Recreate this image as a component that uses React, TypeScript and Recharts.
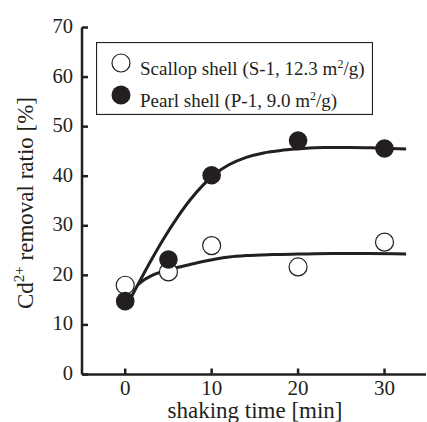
import React from "react";
import { ComposedChart, Legend, Line, Scatter, XAxis, YAxis } from "recharts";

const INK = "#231f20";
const FONT = '"Liberation Serif", "Times New Roman", Times, serif';

// measured points
const shakingTime = [0, 5, 10, 20, 30];
const scallopRatio = [18.0, 20.7, 26.0, 21.7, 26.7];
const pearlRatio = [14.8, 23.2, 40.2, 47.2, 45.6];

// fitted curves
const scallopFitTime = [1.45, 2.2, 3, 4, 5, 6, 7.5, 9, 10.5, 12, 14, 17, 20, 24, 28, 32.5];
const scallopFitRatio = [18.1, 19.1, 19.9, 20.6, 21.1, 21.6, 22.2, 22.8, 23.3, 23.7, 24.0, 24.2, 24.3, 24.4, 24.4, 24.3];
const pearlFitTime = [0, 1.5, 3, 4.5, 6, 7.5, 9, 10.5, 12, 14, 16, 18, 20, 23, 26, 29, 32.5];
const pearlFitRatio = [13.3, 18.25, 23.05, 27.55, 31.6, 35.2, 38.2, 40.6, 42.3, 43.8, 44.7, 45.2, 45.5, 45.8, 45.8, 45.7, 45.5];

const xTicks = [0, 10, 20, 30];
const yTicks = [0, 10, 20, 30, 40, 50, 60, 70];

const SCALLOP = "Scallop shell (S-1, 12.3 m²/g)";
const PEARL = "Pearl shell (P-1, 9.0 m²/g)";
const legendOrder = [SCALLOP, PEARL];

const toPoints = (xs: number[], ys: number[]) => xs.map((x, i) => ({ x, y: ys[i] }));

const scallopData = toPoints(shakingTime, scallopRatio);
const pearlData = toPoints(shakingTime, pearlRatio);
const scallopFit = toPoints(scallopFitTime, scallopFitRatio);
const pearlFit = toPoints(pearlFitTime, pearlFitRatio);

const OpenDot = (p: any) => (
  <circle cx={p.cx} cy={p.cy} r={9} fill="#fff" stroke={INK} strokeWidth={1.2} />
);
const FilledDot = (p: any) => <circle cx={p.cx} cy={p.cy} r={9.3} fill={INK} />;

const BottomTick = ({ x, y, payload }: any) => (
  <g>
    <line x1={x} y1={y} x2={x} y2={y - 6} stroke={INK} strokeWidth={2.5} />
    <text x={x} y={y + 20.5} textAnchor="middle" fontFamily={FONT} fontSize={21} fill={INK}>
      {payload.value}
    </text>
  </g>
);
const TopTick = ({ x, y }: any) => (
  <line x1={x} y1={y} x2={x} y2={y + 6} stroke={INK} strokeWidth={2.5} />
);
const LeftTick = ({ x, y, payload }: any) => (
  <g>
    <line x1={x} y1={y} x2={x + 6} y2={y} stroke={INK} strokeWidth={2.5} />
    <text x={x - 9} y={y + 5.5} textAnchor="end" fontFamily={FONT} fontSize={20.5} fill={INK}>
      {payload.value}
    </text>
  </g>
);
const RightTick = ({ x, y }: any) => (
  <line x1={x} y1={y} x2={x - 5} y2={y} stroke={INK} strokeWidth={2.5} />
);

// "m²" -> m with a raised small 2
function SupName({ name }: { name: string }) {
  const [a, b] = name.split("²");
  return (
    <>
      {a}
      <tspan dy={-7} fontSize={12}>2</tspan>
      <tspan dy={7}>{b}</tspan>
    </>
  );
}

function LegendBox({ payload }: any) {
  const names = (payload || []).map((e: any) => e.value);
  const items = legendOrder.filter((n) => names.includes(n));
  return (
    <svg width={277} height={73} style={{ display: "block" }}>
      <rect x={0.5} y={0.5} width={276} height={72} fill="#fff" stroke={INK} strokeWidth={1.2} />
      {items.map((name, i) => {
        const cy = 21 + i * 32;
        return (
          <g key={name}>
            {name === SCALLOP ? (
              <circle cx={25} cy={cy} r={9} fill="#fff" stroke={INK} strokeWidth={1.2} />
            ) : (
              <circle cx={25} cy={cy} r={9.5} fill={INK} />
            )}
            <text x={44} y={cy + 12} fontFamily={FONT} fontSize={19} fill={INK}>
              <SupName name={name} />
            </text>
          </g>
        );
      })}
    </svg>
  );
}

const YTitle = (props: any) => {
  const vb = props.viewBox || { x: 0, y: 27.5, width: 82, height: 347 };
  const cy = vb.y + vb.height / 2 + 2;
  return (
    <text
      transform={`translate(33,${cy}) rotate(-90)`}
      textAnchor="middle"
      fontFamily={FONT}
      fontSize={23}
      fill={INK}
    >
      Cd
      <tspan dy={-9} fontSize={15}>2+</tspan>
      <tspan dy={9}> removal ratio [%]</tspan>
    </text>
  );
};

const XTitle = (props: any) => {
  const vb = props.viewBox || { x: 82, y: 374.5, width: 344, height: 47.5 };
  return (
    <text
      x={vb.x + vb.width / 2 + 1}
      y={vb.y + 43.5}
      textAnchor="middle"
      fontFamily={FONT}
      fontSize={23}
      fill={INK}
    >
      shaking time [min]
    </text>
  );
};

export default function App() {
  return (
    <div style={{ position: "absolute", left: 0, top: 0, background: "#fff" }}>
      <ComposedChart
        width={427}
        height={422}
        margin={{ top: 27.5, right: 1, bottom: 0, left: 0 }}
      >
        <XAxis
          dataKey="x"
          type="number"
          domain={[-5, 34.8]}
          ticks={xTicks}
          interval={0}
          allowDataOverflow
          height={47.5}
          tickSize={0}
          tickMargin={0}
          tick={<BottomTick />}
          axisLine={{ stroke: INK, strokeWidth: 2.5 }}
          label={{ content: <XTitle /> }}
        />
        <XAxis
          xAxisId="top"
          orientation="top"
          type="number"
          domain={[-5, 34.8]}
          ticks={xTicks}
          interval={0}
          allowDataOverflow
          height={0}
          tickSize={0}
          tickMargin={0}
          tick={<TopTick />}
          axisLine={{ stroke: INK, strokeWidth: 2 }}
        />
        <YAxis
          type="number"
          domain={[0, 70]}
          ticks={yTicks}
          interval={0}
          allowDataOverflow
          width={82}
          tickSize={0}
          tickMargin={0}
          tick={<LeftTick />}
          axisLine={{ stroke: INK, strokeWidth: 2.5 }}
          label={{ content: <YTitle /> }}
        />
        <YAxis
          yAxisId="right"
          orientation="right"
          type="number"
          domain={[0, 70]}
          ticks={yTicks}
          interval={0}
          allowDataOverflow
          width={0}
          tickSize={0}
          tickMargin={0}
          tick={<RightTick />}
          axisLine={{ stroke: INK, strokeWidth: 1.5 }}
        />
        <Legend
          layout="horizontal"
          verticalAlign="middle"
          align="center"
          content={<LegendBox />}
          wrapperStyle={{ left: 95.5, top: 42, width: 277, height: 73 }}
        />
        <Line
          data={scallopFit}
          dataKey="y"
          type="monotone"
          stroke={INK}
          strokeWidth={3}
          dot={false}
          activeDot={false}
          legendType="none"
          isAnimationActive={false}
        />
        <Line
          data={pearlFit}
          dataKey="y"
          type="monotone"
          stroke={INK}
          strokeWidth={3}
          dot={false}
          activeDot={false}
          legendType="none"
          isAnimationActive={false}
        />
        <Scatter
          name={SCALLOP}
          data={scallopData}
          dataKey="y"
          fill="#fff"
          shape={<OpenDot />}
          isAnimationActive={false}
        />
        <Scatter
          name={PEARL}
          data={pearlData}
          dataKey="y"
          fill={INK}
          shape={<FilledDot />}
          isAnimationActive={false}
        />
      </ComposedChart>
    </div>
  );
}
